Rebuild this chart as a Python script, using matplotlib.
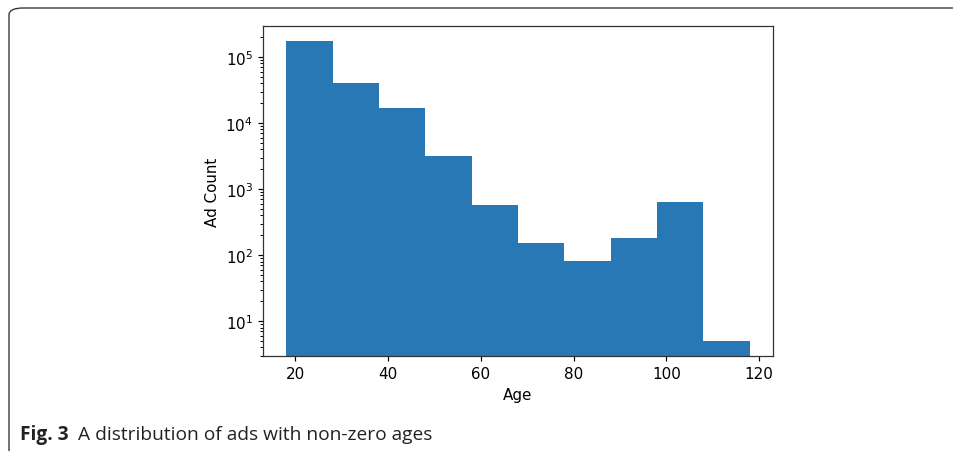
import matplotlib.pyplot as plt
import numpy as np
from matplotlib.patches import FancyBboxPatch

# histogram of ages (10 bins, log counts)
bin_edges = [18, 28, 38, 48, 58, 68, 78, 88, 98, 108, 118]
ad_counts = [175000, 40000, 17000, 3200, 580, 152, 81, 181, 645, 5]

W, H = 954, 452
fig = plt.figure(figsize=(W / 100, H / 100), dpi=100)

# rounded frame around the figure (runs off the right and bottom edge)
frame = FancyBboxPatch((9 / W, -0.2), 1.2, (H - 9) / H + 0.2,
                       boxstyle='round,pad=0,rounding_size=0.015',
                       transform=fig.transFigure, facecolor='none',
                       edgecolor='#3a3a3a', linewidth=1.0, clip_on=False)
fig.patches.append(frame)

ax = fig.add_axes([263 / W, 1 - 357 / H, (773 - 263) / W, (357 - 27) / H])
widths = np.diff(bin_edges)
ax.bar(bin_edges[:-1], ad_counts, width=widths, align='edge', log=True,
       color='#2878b5')

ax.set_xticks([20, 40, 60, 80, 100, 120])
ax.set_xlabel('Age', fontsize=10.9, labelpad=4)
ax.set_ylabel('Ad Count', fontsize=10.9, labelpad=4)
ax.tick_params(which='major', labelsize=10.9, length=3.8, width=0.85)
ax.tick_params(which='minor', length=2.2, width=0.7)
for s in ax.spines.values():
    s.set_linewidth(0.9)
    s.set_color('#333333')

# caption
r = fig.canvas.get_renderer()
t1 = fig.text(20 / W, 1 - 440 / H, 'Fig. 3', fontsize=13.8, fontweight='bold',
              family='Open Sans', color='#222222')
bb = t1.get_window_extent(renderer=r)
fig.text((bb.x1 + 9) / W, 1 - 440 / H, 'A distribution of ads with non-zero ages',
         fontsize=13.8, family='Open Sans', color='#222222')

fig.savefig('out.png', dpi=100)
